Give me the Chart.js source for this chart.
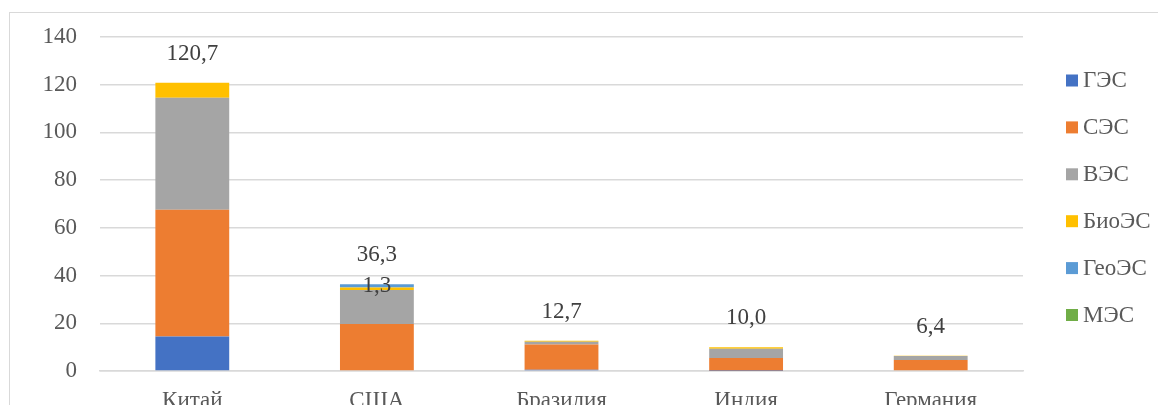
<!DOCTYPE html>
<html lang="ru">
<head>
<meta charset="utf-8">
<title>Ввод мощностей ВИЭ</title>
<script src="https://cdn.jsdelivr.net/npm/chart.js@4.4.1/dist/chart.umd.min.js"></script>
<style>
  html, body { margin: 0; padding: 0; background: #fff; overflow: hidden; width: 1158px; height: 405px; }
  #frame { position: absolute; left: 9px; top: 12px; width: 1400px; height: 700px;
           border: 1.5px solid #d9d9d9; box-sizing: border-box; }
  #wrap { position: absolute; left: 0; top: 0; width: 1158px; height: 440px; }
</style>
</head>
<body>
<div id="frame"></div>
<div id="wrap"><canvas id="chart"></canvas></div>
<script>
// Страны и вводимые мощности по типам станций, ГВт
const categories = ['Китай', 'США', 'Бразилия', 'Индия', 'Германия'];
const seriesNames = ['ГЭС', 'СЭС', 'ВЭС', 'БиоЭС', 'ГеоЭС', 'МЭС'];
const hydro  = [14.5, 0.0, 0.5, 0.1, 0.0];
const solar  = [53.1, 19.7, 10.6, 5.3, 4.6];
const wind   = [46.9, 14.2, 1.2, 3.9, 1.7];
const bio    = [6.2, 1.1, 0.4, 0.7, 0.1];
const geo    = [0.0, 1.3, 0.0, 0.0, 0.0];
const marine = [0.0, 0.0, 0.0, 0.0, 0.0];
const yTicks = [0, 20, 40, 60, 80, 100, 120, 140];

// Отдельная подпись значения сегмента: ГеоЭС, США
const segmentLabel = { series: 'ГеоЭС', category: 'США' };

const seriesValues = [hydro, solar, wind, bio, geo, marine];
const seriesColors = ['#4472C4', '#ED7D31', '#A5A5A5', '#FFC000', '#5B9BD5', '#70AD47'];

const FONT = 'Liberation Serif, "Times New Roman", serif';
const fmt = v => v.toFixed(1).replace('.', ',');

const labelsPlugin = {
  id: 'labelsPlugin',
  afterDatasetsDraw(chart) {
    const ctx = chart.ctx;
    const y = chart.scales.y;
    ctx.save();
    ctx.font = '23px ' + FONT;
    ctx.fillStyle = '#404040';
    ctx.textAlign = 'center';

    // Итоговые значения над столбцами
    const firstMeta = chart.getDatasetMeta(0);
    categories.forEach((c, i) => {
      const total = seriesValues.reduce((s, arr) => s + arr[i], 0);
      const x = firstMeta.data[i].x;
      ctx.textBaseline = 'alphabetic';
      ctx.fillText(fmt(total), x, y.getPixelForValue(total) - 23);
    });

    // Подпись сегмента
    const si = seriesNames.indexOf(segmentLabel.series);
    const ci = categories.indexOf(segmentLabel.category);
    const bar = chart.getDatasetMeta(si).data[ci];
    ctx.textBaseline = 'middle';
    ctx.fillText(fmt(seriesValues[si][ci]), bar.x, (bar.y + bar.base) / 2);

    // Легенда справа
    ctx.textAlign = 'left';
    chart.data.datasets.forEach((ds, i) => {
      const cy = 80.5 + i * 46.9;
      ctx.fillStyle = ds.backgroundColor;
      ctx.fillRect(1066, cy - 6, 12, 12);
      ctx.fillStyle = '#595959';
      ctx.fillText(ds.label, 1083, cy + 0.5);
    });
    ctx.restore();
  }
};

new Chart(document.getElementById('chart'), {
  type: 'bar',
  data: {
    labels: categories,
    datasets: seriesNames.map((name, i) => ({
      label: name,
      data: seriesValues[i],
      backgroundColor: seriesColors[i],
      borderWidth: 0,
      barPercentage: 0.4,
      categoryPercentage: 1.0
    }))
  },
  options: {
    responsive: true,
    maintainAspectRatio: false,
    animation: false,
    layout: { padding: { left: 0, right: 135, top: 31, bottom: 0 } },
    plugins: {
      legend: { display: false },
      tooltip: { enabled: false }
    },
    scales: {
      x: {
        stacked: true,
        grid: { display: false },
        border: { color: '#d9d9d9', width: 1.5 },
        ticks: { color: '#595959', font: { family: FONT, size: 23 }, padding: 8, maxRotation: 0 },
        afterFit(scale) { scale.height = 69; }
      },
      y: {
        stacked: true,
        min: 0,
        max: 140,
        afterBuildTicks(scale) { scale.ticks = yTicks.map(v => ({ value: v })); },
        ticks: { color: '#595959', font: { family: FONT, size: 23 }, padding: 23 },
        grid: { color: '#d9d9d9', lineWidth: 1.5, drawTicks: false },
        border: { display: false },
        afterFit(scale) { scale.width = 100; }
      }
    }
  },
  plugins: [labelsPlugin]
});
</script>
</body>
</html>
